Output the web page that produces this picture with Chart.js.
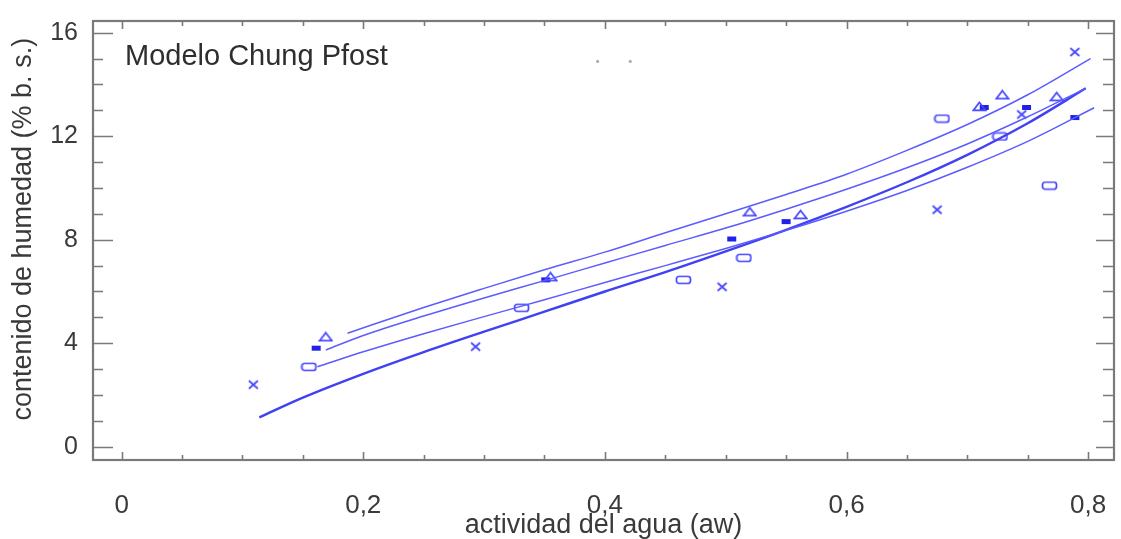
<!DOCTYPE html>
<html>
<head>
<meta charset="utf-8">
<title>Modelo Chung Pfost</title>
<script src="https://cdn.jsdelivr.net/npm/chart.js@4.4.1/dist/chart.umd.min.js"></script>
<style>
    html, body { margin: 0; padding: 0; background: #fff; }
    #wrap { width: 1121px; height: 539px; }
</style>
</head>
<body>
<div id="wrap"><canvas id="diagram" width="1121" height="539"></canvas></div>
<script>
// axis ticks
const xTicks = [0, 0.2, 0.4, 0.6, 0.8];
const xMinor = [0, 0.05, 0.1, 0.15, 0.2, 0.25, 0.3, 0.35, 0.4, 0.45, 0.5, 0.55, 0.6, 0.65, 0.7, 0.75, 0.8];
const yTicks = [0, 4, 8, 12, 16];
const yMinor = [0, 1, 2, 3, 4, 5, 6, 7, 8, 9, 10, 11, 12, 13, 14, 15, 16];

// measured points: water activity (aw) and moisture content (% b. s.)
const crossAw = [0.109, 0.293, 0.497, 0.675, 0.745, 0.789];
const crossM = [2.40, 3.87, 6.18, 9.16, 12.84, 15.25];
const triAw = [0.169, 0.355, 0.520, 0.562, 0.710, 0.729, 0.774];
const triM = [4.25, 6.57, 9.08, 8.97, 13.15, 13.60, 13.53];
const starAw = [0.161, 0.351, 0.505, 0.550, 0.714, 0.749, 0.789];
const starM = [3.81, 6.45, 8.03, 8.70, 13.11, 13.11, 12.72];
const rectAw = [0.155, 0.331, 0.465, 0.515, 0.679, 0.727, 0.768];
const rectM = [3.09, 5.37, 6.45, 7.30, 12.68, 11.99, 10.09];
const speckAw = [0.394, 0.421];
const speckM = [14.89, 14.89];

// fitted curves
const fitAwA = [0.187, 0.25, 0.30, 0.35, 0.40, 0.45, 0.50, 0.55, 0.60, 0.65, 0.70, 0.75, 0.802];
const fitA = [4.39, 5.38, 6.12, 6.84, 7.52, 8.27, 9.00, 9.75, 10.53, 11.45, 12.45, 13.60, 15.00];
const fitAwB = [0.169, 0.20, 0.25, 0.30, 0.35, 0.40, 0.45, 0.50, 0.55, 0.60, 0.65, 0.70, 0.75, 0.798];
const fitB = [3.74, 4.30, 5.05, 5.75, 6.42, 7.10, 7.78, 8.45, 9.18, 9.95, 10.78, 11.70, 12.75, 13.85];
const fitAwC = [0.162, 0.20, 0.25, 0.30, 0.35, 0.40, 0.45, 0.50, 0.55, 0.60, 0.65, 0.70, 0.75, 0.805];
const fitC = [3.09, 3.67, 4.37, 5.03, 5.68, 6.35, 7.00, 7.66, 8.36, 9.10, 9.90, 10.80, 11.80, 13.10];
const fitAwD = [0.114, 0.15, 0.20, 0.25, 0.30, 0.35, 0.40, 0.45, 0.50, 0.55, 0.60, 0.65, 0.70, 0.75, 0.798];
const fitD = [1.14, 1.90, 2.82, 3.66, 4.45, 5.22, 6.00, 6.75, 7.55, 8.38, 9.27, 10.22, 11.28, 12.50, 13.85];

const blue = '#4646ff';
const textColor = '#3a3a3a';
const frameColor = '#7a7a7a';

Chart.defaults.font.family = '"Liberation Sans", Arial, sans-serif';
Chart.defaults.color = textColor;

function pairs(xs, ys) {
    return xs.map((x, i) => ({ x: x, y: ys[i] }));
}

function marker(kind) {
    const c = document.createElement('canvas');
    if (kind === 'rect') { c.width = 17; c.height = 10; }
    if (kind === 'tri') { c.width = 15; c.height = 11; }
    if (kind === 'cross') { c.width = 13; c.height = 12; }
    if (kind === 'star') { c.width = 11; c.height = 7; }
    const g = c.getContext('2d');
    g.strokeStyle = blue;
    g.fillStyle = blue;
    g.lineWidth = 1.7;
    g.beginPath();
    if (kind === 'rect') {
        g.roundRect(1.5, 1.5, 14, 7, 2.5);
        g.stroke();
    } else if (kind === 'tri') {
        g.moveTo(7.5, 1.5);
        g.lineTo(13.5, 9.3);
        g.lineTo(1.5, 9.3);
        g.closePath();
        g.stroke();
    } else if (kind === 'cross') {
        g.moveTo(2, 2); g.lineTo(11, 10);
        g.moveTo(11, 2); g.lineTo(2, 10);
        g.stroke();
    } else {
        g.fillStyle = '#2020e8';
        g.fillRect(1, 1, 9, 5);
    }
    return c;
}

function fmt(v) {
    return String(v).replace('.', ',');
}

function lineSet(xs, ys, width, color) {
    return {
        data: pairs(xs, ys),
        showLine: true,
        borderColor: color,
        borderWidth: width,
        pointRadius: 0,
        cubicInterpolationMode: 'monotone',
        fill: false
    };
}

function pointSet(xs, ys, kind) {
    return {
        data: pairs(xs, ys),
        showLine: false,
        pointStyle: marker(kind),
        pointRadius: 6,
        borderColor: blue,
        backgroundColor: blue
    };
}

// frame and inward tick marks on all four sides
const framePlugin = {
    id: 'frame',
    beforeDatasetsDraw(chart) {
        const { ctx, chartArea: a, scales: { x, y } } = chart;
        ctx.save();
        ctx.strokeStyle = frameColor;
        ctx.lineWidth = 1.6;
        ctx.beginPath();
        xMinor.forEach(v => {
            const px = Math.round(x.getPixelForValue(v)) + 0.5;
            const big = xTicks.includes(v);
            ctx.moveTo(px, a.bottom); ctx.lineTo(px, a.bottom - (big ? 8 : 5));
            ctx.moveTo(px, a.top); ctx.lineTo(px, a.top + (big ? 8 : 5));
        });
        yMinor.forEach(v => {
            const py = Math.round(y.getPixelForValue(v)) + 0.5;
            const big = yTicks.includes(v);
            ctx.moveTo(a.left, py); ctx.lineTo(a.left + (big ? 20 : 10), py);
            ctx.moveTo(a.right, py); ctx.lineTo(a.right - (big ? 18 : 11), py);
        });
        ctx.stroke();
        ctx.lineWidth = 2.2;
        ctx.strokeRect(a.left, a.top, a.right - a.left, a.bottom - a.top);
        ctx.restore();
    },
    afterDraw(chart) {
        const ctx = chart.ctx;
        ctx.save();
        ctx.fillStyle = '#2e2e2e';
        ctx.font = '29px "Liberation Sans", Arial, sans-serif';
        ctx.textBaseline = 'alphabetic';
        ctx.fillText('Modelo Chung Pfost', 125, 65);
        ctx.restore();
    }
};

function createChart() {
    const ctx = document.getElementById('diagram').getContext('2d');

    new Chart(ctx, {
        type: 'scatter',
        data: {
            datasets: [
                lineSet(fitAwA, fitA, 1.5, '#5c5cff'),
                lineSet(fitAwB, fitB, 1.5, '#5c5cff'),
                lineSet(fitAwC, fitC, 1.5, '#5c5cff'),
                lineSet(fitAwD, fitD, 2.4, '#4040f4'),
                pointSet(crossAw, crossM, 'cross'),
                pointSet(triAw, triM, 'tri'),
                pointSet(starAw, starM, 'star'),
                pointSet(rectAw, rectM, 'rect'),
                {
                    data: pairs(speckAw, speckM),
                    pointRadius: 1.6,
                    pointBorderWidth: 0,
                    backgroundColor: '#b0b0b0'
                }
            ]
        },
        options: {
            responsive: false,
            animation: false,
            devicePixelRatio: 1,
            layout: { padding: { top: 21, right: 3, left: 0, bottom: 0 } },
            plugins: {
                legend: { display: false },
                tooltip: { enabled: false }
            },
            scales: {
                x: {
                    type: 'linear',
                    min: -0.0237,
                    max: 0.8214,
                    afterFit: scale => {
                        scale.height = 79;
                        scale.paddingLeft = 0;
                        scale.paddingRight = 0;
                    },
                    afterBuildTicks: scale => { scale.ticks = xTicks.map(v => ({ value: v })); },
                    grid: { display: false, drawTicks: false },
                    border: { display: false },
                    ticks: {
                        padding: 33,
                        font: { size: 26, lineHeight: 1 },
                        color: textColor,
                        callback: v => fmt(v)
                    },
                    title: {
                        display: true,
                        text: 'actividad del agua (aw)',
                        font: { size: 27, lineHeight: 1 },
                        padding: { top: 0, bottom: 0 },
                        color: textColor
                    }
                },
                y: {
                    type: 'linear',
                    min: -0.51,
                    max: 16.45,
                    afterFit: scale => {
                        scale.width = 93;
                        scale.paddingTop = 0;
                        scale.paddingBottom = 0;
                    },
                    afterBuildTicks: scale => { scale.ticks = yTicks.map(v => ({ value: v })); },
                    grid: { display: false, drawTicks: false },
                    border: { display: false },
                    ticks: {
                        padding: 15,
                        font: { size: 25, lineHeight: 1 },
                        color: textColor
                    },
                    title: {
                        display: true,
                        text: '   contenido de humedad (% b. s.)',
                        font: { size: 27, lineHeight: 1 },
                        padding: { top: 10, bottom: 0 },
                        color: textColor
                    }
                }
            }
        },
        plugins: [framePlugin]
    });
}

window.onload = createChart;
</script>
</body>
</html>
